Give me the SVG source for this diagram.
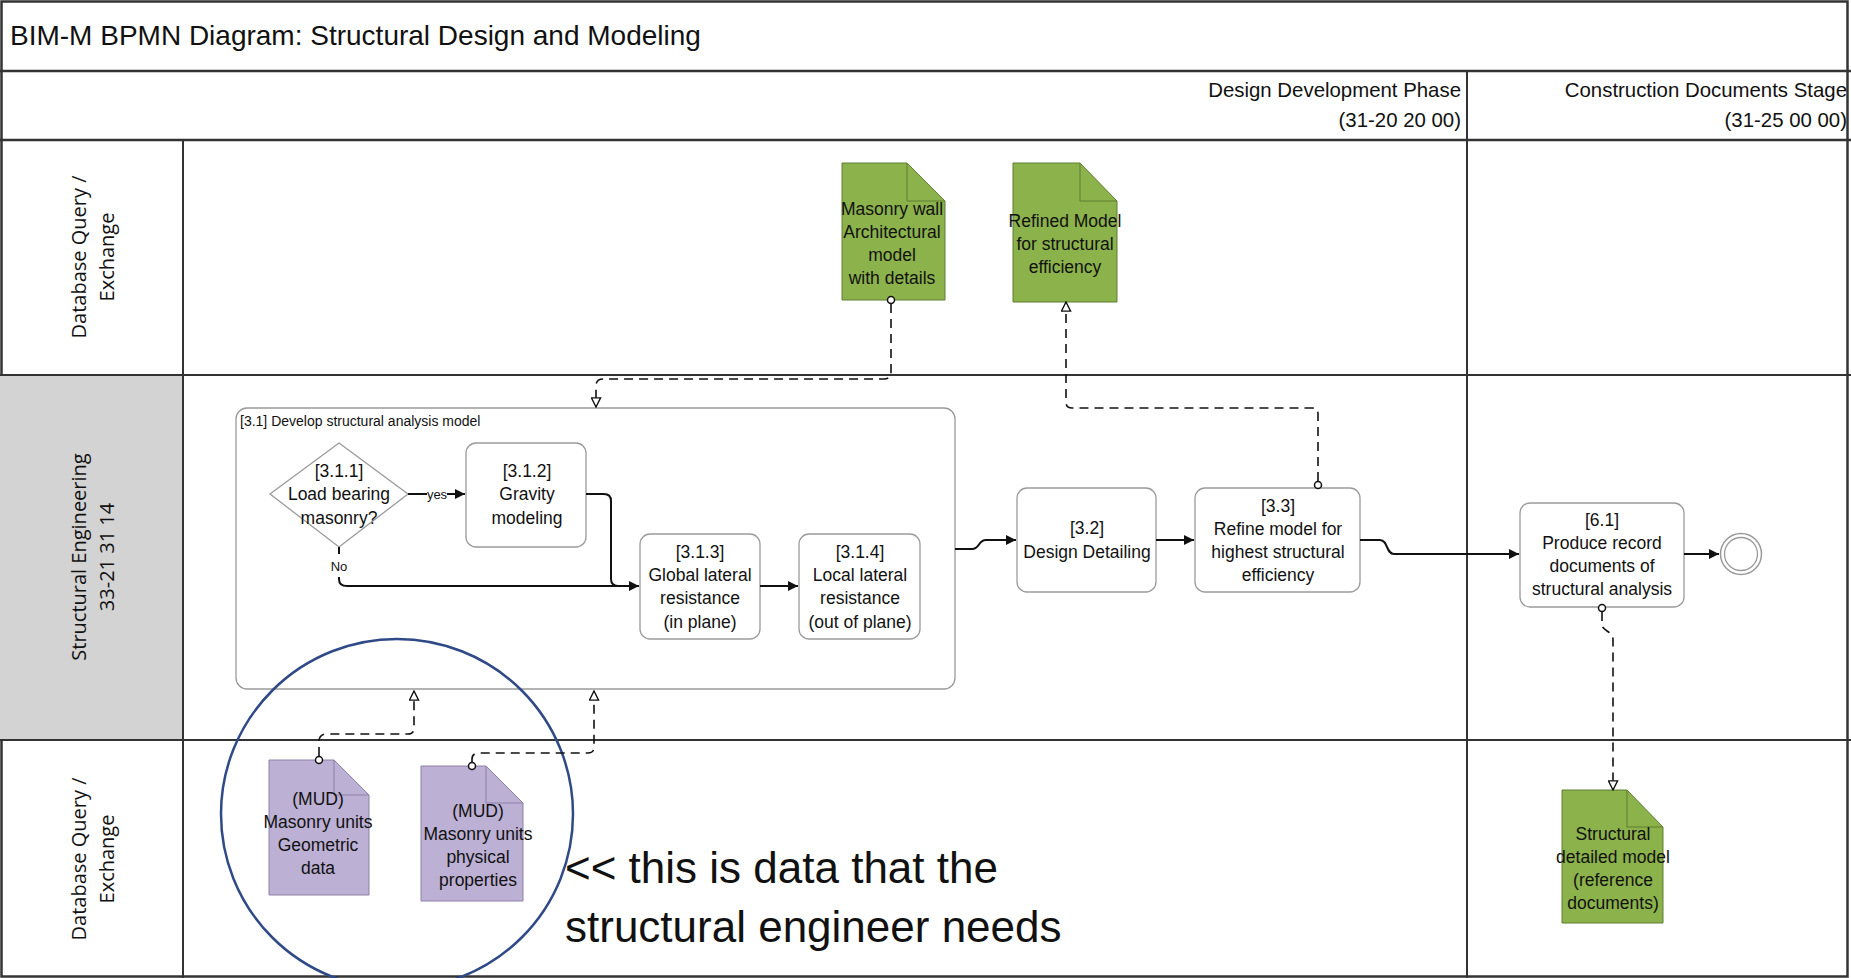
<svg xmlns="http://www.w3.org/2000/svg" width="1851" height="978" viewBox="0 0 1851 978">
<style>
.frame{fill:none;stroke:#333;stroke-width:2.5}
.lane{stroke:#333;stroke-width:2}
.t{font-family:"Liberation Sans",Arial,sans-serif;fill:#111}
.lab{font-family:"Open Sans","Liberation Sans",sans-serif;font-size:20px;fill:#111}
.node{font-family:"Liberation Sans",Arial,sans-serif;font-size:17.5px;fill:#111;text-anchor:middle}
.task{fill:#fff;stroke:#9a9a9a;stroke-width:1.3}
.green{fill:#8cb24b;stroke:#5f7f33;stroke-width:1}
.purple{fill:#bcb0d4;stroke:#8c80a8;stroke-width:1}
.flow{fill:none;stroke:#111;stroke-width:2}
.assoc{fill:none;stroke:#111;stroke-width:1.6;stroke-dasharray:9 6}
.small{font-family:"Liberation Sans",Arial,sans-serif;font-size:13px;fill:#111;text-anchor:middle}
</style>
<defs>
<marker id="arr" viewBox="0 0 10 10" refX="10" refY="5" markerWidth="10" markerHeight="10" markerUnits="userSpaceOnUse" orient="auto">
<path d="M0,0 L10,5 L0,10 z" fill="#111"/>
</marker>
<marker id="open" viewBox="0 0 12 12" refX="11" refY="6" markerWidth="11" markerHeight="11" markerUnits="userSpaceOnUse" orient="auto">
<path d="M1,1 L11,6 L1,11 z" fill="#fff" stroke="#111" stroke-width="1.5"/>
</marker>
</defs>
<rect x="0" y="0" width="1851" height="978" fill="#fff"/>
<g id="pool">
<rect x="1.5" y="1.5" width="1846" height="975" class="frame"/>
<rect x="0" y="375" width="183" height="365" fill="#d3d3d3"/>
<line x1="0" y1="71" x2="1851" y2="71" class="frame"/>
<line x1="0" y1="140" x2="1851" y2="140" class="frame"/>
<line x1="0" y1="375" x2="1851" y2="375" class="lane"/>
<line x1="0" y1="740" x2="1851" y2="740" class="lane"/>
<line x1="183" y1="140" x2="183" y2="978" class="lane"/>
<line x1="1467" y1="71" x2="1467" y2="978" class="lane"/>
<text class="t" x="10" y="45" font-size="28">BIM-M BPMN Diagram: Structural Design and Modeling</text>
<text class="t" x="1461" y="97" font-size="20.4" text-anchor="end">Design Development Phase</text>
<text class="t" x="1461" y="127" font-size="20.4" text-anchor="end">(31-20 20 00)</text>
<text class="t" x="1847" y="97" font-size="20.4" text-anchor="end">Construction Documents Stage</text>
<text class="t" x="1847" y="127" font-size="20.4" text-anchor="end">(31-25 00 00)</text>
</g>
<g id="lane-db-top">
<text class="lab" text-anchor="middle" transform="translate(0,257) rotate(-90)"><tspan x="0" y="86">Database Query /</tspan><tspan x="0" y="114">Exchange</tspan></text>
</g>
<g id="lane-struct">
<text class="lab" text-anchor="middle" transform="translate(0,557) rotate(-90)"><tspan x="0" y="86">Structural Engineering</tspan><tspan x="0" y="114">33-21 31 14</tspan></text>
</g>
<g id="lane-db-bottom">
<text class="lab" text-anchor="middle" transform="translate(0,859) rotate(-90)"><tspan x="0" y="86">Database Query /</tspan><tspan x="0" y="114">Exchange</tspan></text>
</g>

<g id="doc-masonry-wall">
<path class="green" d="M842,163 H907 L945,201 V300 H842 Z"/>
<path d="M907,163 V201 H945" fill="none" stroke="#5f7f33" stroke-width="1"/>
<text class="node"><tspan x="892" y="215">Masonry wall</tspan><tspan x="892" y="238">Architectural</tspan><tspan x="892" y="261">model</tspan><tspan x="892" y="284">with details</tspan></text>
</g>
<g id="doc-refined-model">
<path class="green" d="M1013,163 H1080 L1117,201 V302 H1013 Z"/>
<path d="M1080,163 V201 H1117" fill="none" stroke="#5f7f33" stroke-width="1"/>
<text class="node"><tspan x="1065" y="227">Refined Model</tspan><tspan x="1065" y="250">for structural</tspan><tspan x="1065" y="273">efficiency</tspan></text>
</g>

<g id="sub-3-1">
<rect class="task" x="236" y="408" width="719" height="281" rx="11"/>
<text class="t" x="240" y="426" font-size="14">[3.1]  Develop structural analysis model</text>
</g>
<g id="gw-3-1-1">
<path d="M339,443 L408,494 L339,547 L270,494 Z" fill="#fff" stroke="#9a9a9a" stroke-width="1.3"/>
<text class="node"><tspan x="339" y="477">[3.1.1]</tspan><tspan x="339" y="500">Load bearing</tspan><tspan x="339" y="524">masonry?</tspan></text>
</g>
<g id="task-3-1-2">
<rect class="task" x="466" y="443" width="120" height="104" rx="10"/>
<text class="node"><tspan x="527" y="477">[3.1.2]</tspan><tspan x="527" y="500">Gravity</tspan><tspan x="527" y="524">modeling</tspan></text>
</g>
<g id="task-3-1-3">
<rect class="task" x="640" y="534" width="120" height="105" rx="10"/>
<text class="node"><tspan x="700" y="558">[3.1.3]</tspan><tspan x="700" y="581">Global lateral</tspan><tspan x="700" y="604">resistance</tspan><tspan x="700" y="628">(in plane)</tspan></text>
</g>
<g id="task-3-1-4">
<rect class="task" x="799" y="534" width="121" height="105" rx="10"/>
<text class="node"><tspan x="860" y="558">[3.1.4]</tspan><tspan x="860" y="581">Local lateral</tspan><tspan x="860" y="604">resistance</tspan><tspan x="860" y="628">(out of plane)</tspan></text>
</g>
<g id="task-3-2">
<rect class="task" x="1017" y="488" width="139" height="104" rx="10"/>
<text class="node"><tspan x="1087" y="534">[3.2]</tspan><tspan x="1087" y="558">Design Detailing</tspan></text>
</g>
<g id="task-3-3">
<rect class="task" x="1195" y="488" width="165" height="104" rx="10"/>
<text class="node"><tspan x="1278" y="512">[3.3]</tspan><tspan x="1278" y="535">Refine model for</tspan><tspan x="1278" y="558">highest structural</tspan><tspan x="1278" y="581">efficiency</tspan></text>
</g>
<g id="task-6-1">
<rect class="task" x="1520" y="503" width="164" height="104" rx="10"/>
<text class="node"><tspan x="1602" y="526">[6.1]</tspan><tspan x="1602" y="549">Produce record</tspan><tspan x="1602" y="572">documents of</tspan><tspan x="1602" y="595">structural analysis</tspan></text>
</g>
<g id="end-event">
<circle cx="1741" cy="554" r="20.5" fill="#fff" stroke="#9a9a9a" stroke-width="1.5"/>
<circle cx="1741" cy="554" r="16.5" fill="none" stroke="#9a9a9a" stroke-width="1.3"/>
</g>

<g id="doc-mud-geometric">
<path class="purple" d="M269,760 H334 L369,795 V895 H269 Z"/>
<path d="M334,760 V795 H369" fill="none" stroke="#8c80a8" stroke-width="1"/>
<text class="node"><tspan x="318" y="805">(MUD)</tspan><tspan x="318" y="828">Masonry units</tspan><tspan x="318" y="851">Geometric</tspan><tspan x="318" y="874">data</tspan></text>
</g>
<g id="doc-mud-physical">
<path class="purple" d="M421,766 H486 L523,803 V901 H421 Z"/>
<path d="M486,766 V803 H523" fill="none" stroke="#8c80a8" stroke-width="1"/>
<text class="node"><tspan x="478" y="817">(MUD)</tspan><tspan x="478" y="840">Masonry units</tspan><tspan x="478" y="863">physical</tspan><tspan x="478" y="886">properties</tspan></text>
</g>
<g id="doc-structural-detailed">
<path class="green" d="M1562,790 H1627 L1663,827 V923 H1562 Z"/>
<path d="M1627,790 V827 H1663" fill="none" stroke="#5f7f33" stroke-width="1"/>
<text class="node"><tspan x="1613" y="840">Structural</tspan><tspan x="1613" y="863">detailed model</tspan><tspan x="1613" y="886">(reference</tspan><tspan x="1613" y="909">documents)</tspan></text>
</g>

<g id="annotation">
<ellipse cx="397" cy="814" rx="176" ry="175" fill="none" stroke="#2f4a86" stroke-width="2.5"/>
<text class="t" x="565" y="883" font-size="44">&lt;&lt; this is data that the</text>
<text class="t" x="565" y="942" font-size="44">structural engineer needs</text>
</g>

<g id="connectors">
<path class="flow" d="M408,494 H427"/>
<path class="flow" d="M447,494 H465" marker-end="url(#arr)"/>
<text class="small" x="437" y="499">yes</text>
<path class="flow" d="M586,494 H604 Q611,494 611,501 V579 Q611,586 619,586"/>
<path class="flow" d="M339,547 V554"/>
<text class="small" x="339" y="571">No</text>
<path class="flow" d="M339,577 V579 Q339,586 347,586 H639" marker-end="url(#arr)"/>
<path class="flow" d="M760,586 H798" marker-end="url(#arr)"/>
<path class="flow" d="M955,549 H972 C980,549 978,540 986,540 H1016" marker-end="url(#arr)"/>
<path class="flow" d="M1156,540 H1194" marker-end="url(#arr)"/>
<path class="flow" d="M1360,540 H1380 C1388,540 1386,554 1394,554 H1519" marker-end="url(#arr)"/>
<path class="flow" d="M1684,554 H1719" marker-end="url(#arr)"/>

<circle cx="891" cy="300" r="3.5" fill="#fff" stroke="#111" stroke-width="1.5"/>
<path class="assoc" d="M891,304 V372 Q891,379 884,379 H603 Q596,379 596,386 V407" marker-end="url(#open)"/>
<circle cx="1318" cy="485" r="3.5" fill="#fff" stroke="#111" stroke-width="1.5"/>
<path class="assoc" d="M1318,481 V414 Q1318,408 1312,408 H1072 Q1066,408 1066,402 V302" marker-end="url(#open)"/>
<circle cx="1602" cy="608" r="3.5" fill="#fff" stroke="#111" stroke-width="1.5"/>
<path class="assoc" d="M1602,612 V624 C1602,632 1613,630 1613,640 V790" marker-end="url(#open)"/>
<circle cx="319" cy="760" r="3.5" fill="#fff" stroke="#111" stroke-width="1.5"/>
<path class="assoc" d="M319,756 V742 Q319,734 327,734 H408 Q414,734 414,728 V691" marker-end="url(#open)"/>
<circle cx="472" cy="766" r="3.5" fill="#fff" stroke="#111" stroke-width="1.5"/>
<path class="assoc" d="M472,762 V759 Q472,753 479,753 H588 Q594,753 594,747 V691" marker-end="url(#open)"/>
</g>
</svg>
